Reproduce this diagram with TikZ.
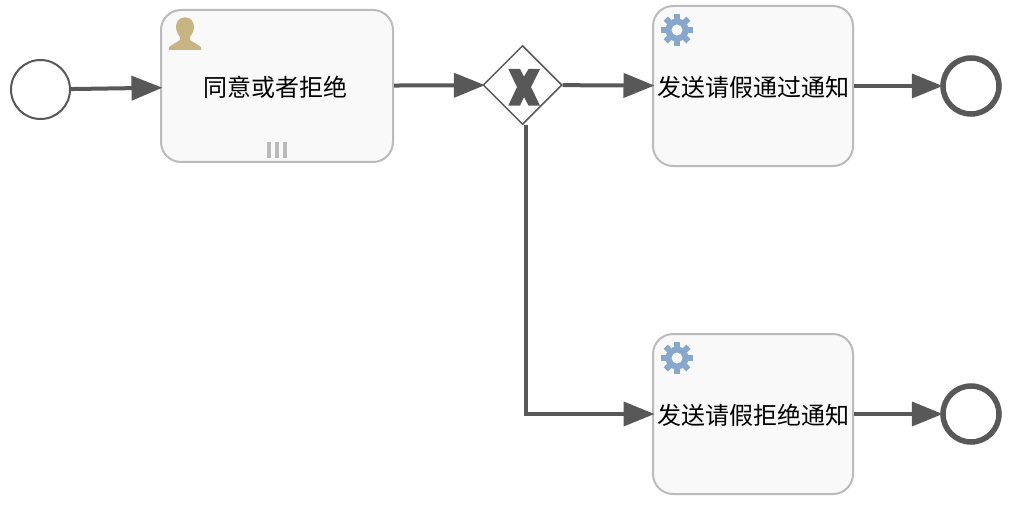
\documentclass[tikz,border=0pt]{standalone}
\usepackage{fontspec}
\setmainfont{Noto Sans CJK SC}
\usetikzlibrary{shapes.geometric, arrows.meta}
\definecolor{flowgray}{HTML}{585858}
\definecolor{taskborder}{HTML}{BBBBBB}
\definecolor{taskfill}{HTML}{F9F9F9}
\definecolor{gearblue}{HTML}{87A8CC}
\definecolor{usertan}{HTML}{C8B483}
\newcommand{\tasktext}[1]{\raisebox{-1pt}[\height][\depth]{#1}}
\tikzset{
  flow/.style={draw=flowgray, line width=4pt, shorten >=-2.5pt, -{Triangle[length=31pt, width=24pt]}},
  task/.style={draw=taskborder, fill=taskfill, line width=2pt, rounded corners=20pt, inner sep=0pt, font=\fontsize{24}{28}\selectfont},
  startevent/.style={circle, draw=flowgray, fill=white, line width=2pt, inner sep=0pt, minimum size=59pt},
  endevent/.style={circle, draw=flowgray, fill=white, line width=5.5pt, inner sep=0pt, minimum size=56pt},
  gateway/.style={diamond, draw=flowgray, fill=white, line width=1.5pt, inner sep=0pt, minimum size=79pt},
  gear/.pic={
    \foreach \a in {0,45,...,315} \fill[gearblue, rotate=\a] (-3,-16) rectangle (3,-8);
    \fill[gearblue] (0,0) circle (11.5);
    \fill[taskfill] (0,0) circle (5.5);
  }
}
\begin{document}
\begin{tikzpicture}[x=1pt, y=-1pt]
  \useasboundingbox (0,0) rectangle (1028,508);

  \node[startevent] (start) at (40.5,89.5) {};
  \node[task, minimum width=232pt, minimum height=152pt] (approve) at (277,86) {\hspace*{-4pt}\tasktext{同意或者拒绝}};
  \node[gateway] (gate) at (522.5,85) {};
  \node[task, minimum width=200pt, minimum height=160pt] (sendok) at (753,86) {\tasktext{发送请假通过通知}};
  \node[task, minimum width=200pt, minimum height=160pt] (sendno) at (753,414) {\tasktext{发送请假拒绝通知}};
  \node[endevent] (endok) at (971,86) {};
  \node[endevent] (endno) at (971,414) {};

  \draw[flow] (start) -- (approve);
  \draw[flow] (approve) -- (gate);
  \draw[flow] (gate) -- (sendok);
  \draw[flow] ([xshift=3.5pt]gate.south) |- (sendno);
  \draw[flow] (sendok) -- (endok);
  \draw[flow] (sendno) -- (endno);

  \fill[flowgray] (508.3,69) -- (520,69) -- (524,76.5) -- (528.5,69) -- (540,69) -- (531,87) -- (540,105.6) -- (528.5,105.6) -- (524,97) -- (520,105.6) -- (508.3,105.6) -- (517,87) -- cycle;

  \fill[usertan] (185,17.3) .. controls (191,17.3) and (194,22) .. (194,27) .. controls (194,32) and (191,35) .. (190,37) -- (190,40) -- (201,47) -- (201,50) -- (169,50) -- (169,47) -- (180,40) -- (180,37) .. controls (179,35) and (176,32) .. (176,27) .. controls (176,22) and (179,17.3) .. (185,17.3) -- cycle;
  \foreach \x in {267,275,283} \fill[taskborder] (\x,142.3) rectangle (\x+4,158);

  \pic at (677,30) {gear};
  \pic at (677,358) {gear};
\end{tikzpicture}
\end{document}
